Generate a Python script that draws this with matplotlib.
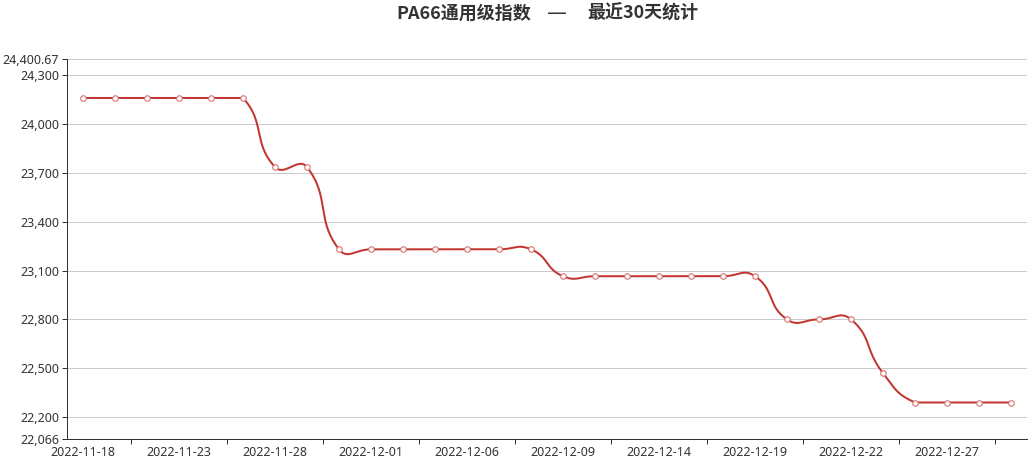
import matplotlib
matplotlib.use('Agg')
import matplotlib.pyplot as plt
import numpy as np

plt.rcParams['font.family'] = ['Noto Sans', 'Noto Sans CJK SC', 'DejaVu Sans']

# ---- data ----
dates = ['2022-11-18', '2022-11-21', '2022-11-22', '2022-11-23', '2022-11-24',
         '2022-11-25', '2022-11-28', '2022-11-29', '2022-11-30', '2022-12-01',
         '2022-12-02', '2022-12-05', '2022-12-06', '2022-12-07', '2022-12-08',
         '2022-12-09', '2022-12-12', '2022-12-13', '2022-12-14', '2022-12-15',
         '2022-12-16', '2022-12-19', '2022-12-20', '2022-12-21', '2022-12-22',
         '2022-12-23', '2022-12-26', '2022-12-27', '2022-12-28', '2022-12-29']
values = [24159, 24159, 24159, 24159, 24159,
          24159, 23735, 23735, 23230, 23230,
          23230, 23230, 23230, 23230, 23230,
          23065, 23065, 23065, 23065, 23065,
          23065, 23065, 22800, 22800, 22800,
          22470, 22290, 22290, 22290, 22290]
y_min = 22066
y_max = 24400.67
y_ticks = [22066, 22200, 22500, 22800, 23100, 23400, 23700, 24000, 24300, 24400.67]
y_labels = ['22,066', '22,200', '22,500', '22,800', '23,100', '23,400',
            '23,700', '24,000', '24,300', '24,400.67']
title_left = 'PA66通用级指数'
title_dash = '—'
title_right = '最近30天统计'

LINE = '#c23531'
MARK_EDGE = '#d6706d'
TXT = '#333333'
W, H = 1032, 459
PX = 72 / 100  # points per pixel at dpi 100

fig = plt.figure(figsize=(W / 100, H / 100), dpi=100)
left, right, top, bottom = 67, 1027, 58.6, 439
ax = fig.add_axes([left / W, 1 - bottom / H, (right - left) / W, (bottom - top) / H])

n = len(values)
x = np.arange(n)
ax.set_xlim(-0.5, n - 0.5)
ax.set_ylim(y_min, y_max)

# grid
for t in y_ticks[1:]:
    ax.axhline(t, color='#cccccc', lw=1 * PX, zorder=1)

# spines
for s in ['top', 'right']:
    ax.spines[s].set_visible(False)
for s in ['left', 'bottom']:
    ax.spines[s].set_color(TXT)
    ax.spines[s].set_linewidth(1 * PX)

# y ticks
ax.set_yticks(y_ticks)
ax.set_yticklabels(y_labels)
ax.tick_params(axis='y', length=5 * PX, width=1 * PX, color=TXT, pad=3 * PX,
               labelsize=12.5 * PX, labelcolor=TXT)

# x ticks: labels at category centres, tick marks at boundaries
ax.set_xticks(x[::3])
ax.set_xticklabels(dates[::3])
ax.set_xticks(np.arange(1.5, n, 3), minor=True)
ax.tick_params(axis='x', which='major', length=0, pad=7 * PX,
               labelsize=12.5 * PX, labelcolor=TXT)
ax.tick_params(axis='x', which='minor', length=5 * PX, width=1 * PX, color=TXT)

# smooth line (ECharts-like bezier smoothing in pixel space)
trans = ax.transData
pts = trans.transform(np.column_stack([x, values]))
smooth = 0.5
pmin = pts.min(axis=0)
pmax = pts.max(axis=0)
curve = [pts[0]]
cp0 = pts[0].copy()
for i in range(1, n):
    p = pts[i]
    prev = pts[i - 1]
    if i + 1 < n:
        nxt = pts[i + 1]
        v = nxt - prev
        lp = np.hypot(*(p - prev))
        ln = np.hypot(*(nxt - p))
        r = ln / (ln + lp) if (ln + lp) > 0 else 0.5
        cp1 = p - v * smooth * (1 - r)
    else:
        v = np.zeros(2)
        r = 0.5
        cp1 = p.copy()
    cp0c = np.clip(cp0, pmin, pmax)
    cp1c = np.clip(cp1, pmin, pmax)
    t = np.linspace(0, 1, 40)[1:, None]
    seg = ((1 - t) ** 3) * prev + 3 * ((1 - t) ** 2) * t * cp0c + \
        3 * (1 - t) * t ** 2 * cp1c + t ** 3 * p
    curve.extend(seg)
    cp0 = p + v * smooth * r
curve = np.array(curve)
curve_data = trans.inverted().transform(curve)
ax.plot(curve_data[:, 0], curve_data[:, 1], color=LINE, lw=2 * PX, zorder=3,
        solid_capstyle='round', solid_joinstyle='round')
ax.plot(x, values, linestyle='none', marker='o', ms=5.5 * PX, mfc='white',
        mec=MARK_EDGE, mew=1.1 * PX, zorder=4)

# title in three pieces
ty = 1 - 13.5 / H
tfont = dict(fontsize=18 * PX, fontweight='bold', color=TXT,
             family=['Noto Sans CJK SC', 'DejaVu Sans'], va='center')
fig.text(396 / W, ty, title_left, ha='left', **tfont)
fig.text(557 / W, ty, title_dash, ha='center', fontsize=20 * PX, color=TXT,
         family=['DejaVu Sans'], va='center')
fig.text(587 / W, ty, title_right, ha='left', **tfont)

fig.savefig('out.png', dpi=100)
